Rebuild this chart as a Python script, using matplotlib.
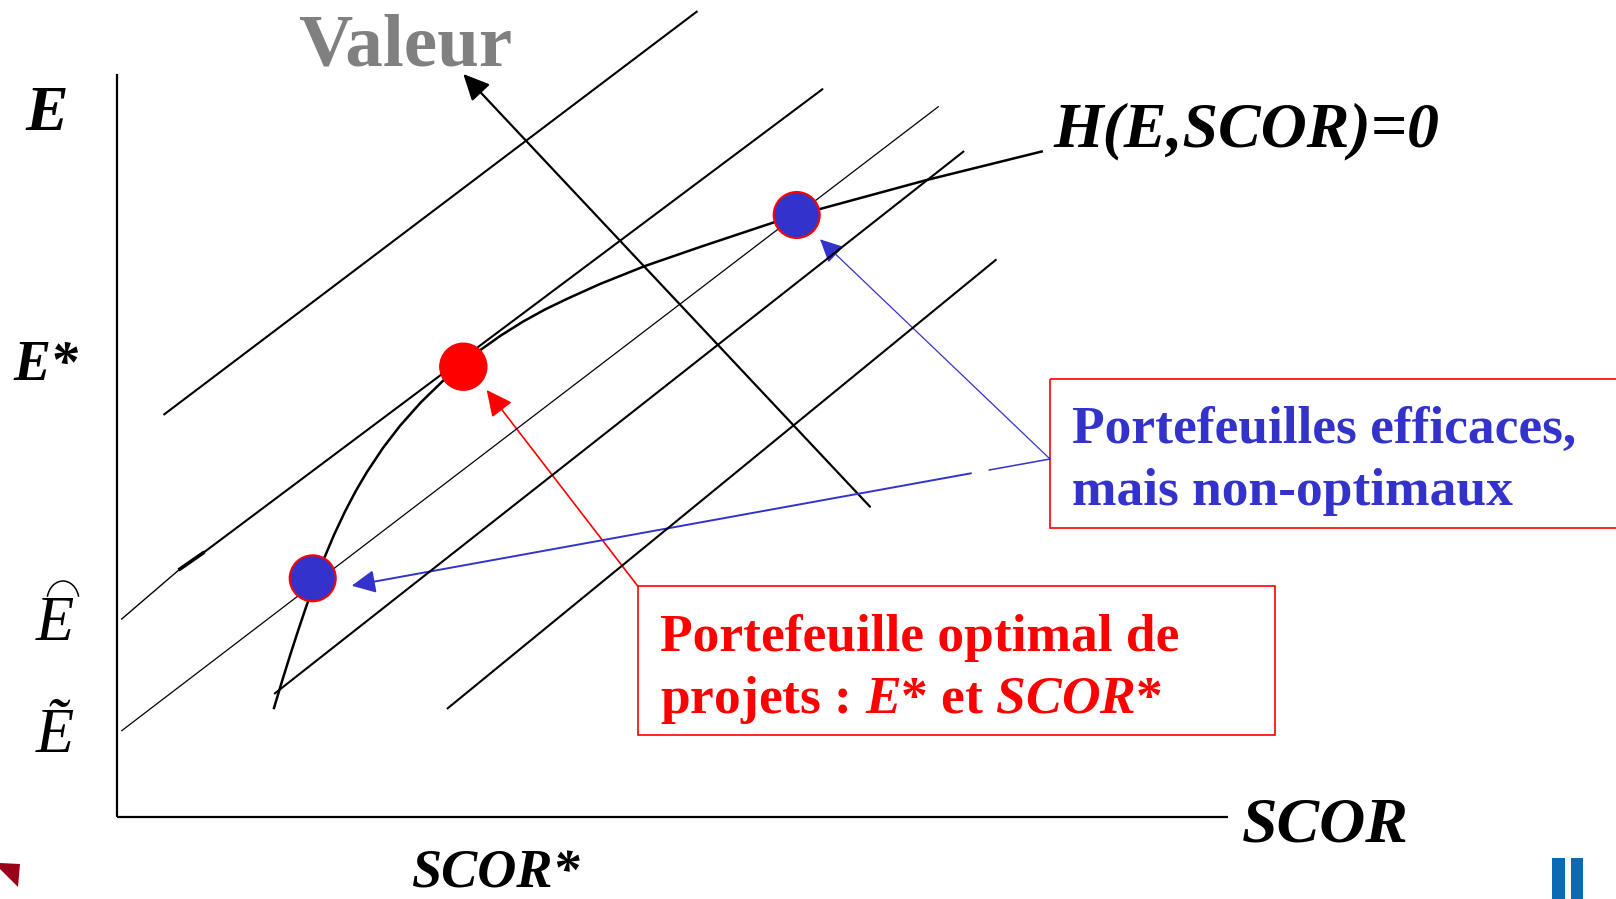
import matplotlib
matplotlib.use('Agg')
import matplotlib.pyplot as plt
from matplotlib.patches import Circle, Rectangle, Polygon, Arc, FancyArrowPatch

plt.rcParams.update({
    'font.family': ['Liberation Serif', 'DejaVu Serif'],
    'mathtext.fontset': 'custom',
    'mathtext.it': 'Liberation Serif:italic:bold',
    'mathtext.rm': 'Liberation Serif:bold',
    'mathtext.bf': 'Liberation Serif:bold',
})

# ---- diagram data (canvas units, y downward) ----
axis_origin = (117, 817)
axis_top_y = 74
axis_right_x = 1228

# iso-value lines (x0, y0, x1, y1)
iso_lines = [
    (164.3, 414.3, 696.7, 11.7),
    (203.0, 553.0, 822.3, 89.3),
    (275.0, 693.3, 963.3, 151.7),
    (447.7, 708.3, 995.7, 260.0),
]
iso_line_b_low = (121.7, 619.0, 180.0, 569.0)
iso_line_b_mark = (180.0, 569.0, 203.0, 553.0)
thin_line = (121.7, 730.7, 938.3, 106.7)

# frontier H(E,SCOR)=0
curve_x = [274, 282, 290, 298, 306.7, 315, 323.3, 334, 345, 356, 366.7, 383, 400,
           421, 443.3, 462, 480, 501, 523, 545, 566.7, 600, 645, 700, 775, 820,
           926.7, 1041.7]
curve_y = [708, 681.3, 655.6, 630.9, 605.1, 581.9, 560.3, 534.9, 511.5, 490.6,
           472.4, 447.9, 425.8, 402.2, 380.5, 364.4, 350.3, 335.4, 321.6, 309.5,
           299, 284, 266, 247, 222, 209, 180, 151.5]

# value direction arrow
valeur_tail = (870, 506.7)
valeur_tip = (463.3, 74)

# points
optimal_pt = (463.3, 366.7)
efficient_pts = [(312.7, 578.3), (796.7, 215.0)]
dot_r = 23

# boxes
red_box = (638, 586.4, 636.8, 148.4)
blue_box = (1050, 379.3, 620, 148.4)

RED = '#FF0000'
BLUE = '#3333CC'
GREY = '#808080'

fig = plt.figure(figsize=(16.16, 8.99), dpi=100)
ax = fig.add_axes([0, 0, 1, 1])
ax.set_xlim(0, 1616)
ax.set_ylim(899, 0)
ax.axis('off')

# axes
ox, oy = axis_origin
ax.plot([ox, ox], [axis_top_y, oy], color='black', lw=1.6, solid_capstyle='butt')
ax.plot([ox, axis_right_x], [oy, oy], color='black', lw=1.6, solid_capstyle='butt')

# iso lines
for (x0, y0, x1, y1) in iso_lines:
    ax.plot([x0, x1], [y0, y1], color='black', lw=1.5)
x0, y0, x1, y1 = iso_line_b_low
ax.plot([x0, x1], [y0, y1], color='black', lw=1.0)
x0, y0, x1, y1 = iso_line_b_mark
ax.plot([x0, x1], [y0, y1], color='black', lw=2.6)
x0, y0, x1, y1 = thin_line
ax.plot([x0, x1], [y0, y1], color='black', lw=0.9)

# frontier
ax.plot(curve_x, curve_y, color='black', lw=1.8, solid_joinstyle='round')

# Valeur arrow
ax.add_patch(FancyArrowPatch(valeur_tail, valeur_tip,
                             arrowstyle='-|>,head_length=0.8,head_width=0.38',
                             mutation_scale=20, lw=1.6, color='black',
                             shrinkA=0, shrinkB=0))

# boxes
ax.add_patch(Rectangle(red_box[:2], red_box[2], red_box[3], fill=False,
                       edgecolor=RED, lw=1.2))
ax.add_patch(Rectangle(blue_box[:2], blue_box[2], blue_box[3], fill=False,
                       edgecolor=RED, lw=1.2, clip_on=False))

# red arrow to optimum
ax.add_patch(FancyArrowPatch((red_box[0], red_box[1]), (486.7, 390),
                             arrowstyle='-|>,head_length=0.8,head_width=0.39',
                             mutation_scale=20, lw=1.2, color=RED,
                             shrinkA=0, shrinkB=0))

# blue arrows
src = (blue_box[0], 459)
ax.add_patch(FancyArrowPatch(src, (820, 239.3),
                             arrowstyle='-|>,head_length=0.72,head_width=0.35',
                             mutation_scale=20, lw=0.9, color=BLUE,
                             shrinkA=0, shrinkB=0))
ax.plot([src[0], 989.3], [src[1], 470.0], color=BLUE, lw=1.1)
ax.add_patch(FancyArrowPatch((971, 473.3), (351.7, 585.7),
                             arrowstyle='-|>,head_length=0.72,head_width=0.35',
                             mutation_scale=20, lw=1.4, color=BLUE,
                             shrinkA=0, shrinkB=0))

# dots
ax.add_patch(Circle(optimal_pt, dot_r + 0.5, facecolor=RED, edgecolor=RED, lw=1, zorder=5))
for p in efficient_pts:
    ax.add_patch(Circle(p, dot_r, facecolor=BLUE, edgecolor=RED, lw=1.5, zorder=5))

# texts
ax.text(298, 66, 'Valeur', color=GREY, fontsize=54, fontweight='bold', va='baseline')
ax.text(25, 130, 'E', fontsize=46, fontweight='bold', style='italic', va='baseline')
ax.text(13, 380, 'E*', fontsize=40, fontweight='bold', style='italic', va='baseline')
ax.text(36, 640, 'E', fontsize=45, style='italic', va='baseline')
ax.add_patch(Arc((63, 601), 32, 40, theta1=195, theta2=345, color='black', lw=1.1))
ax.text(36, 752, 'Ẽ', fontsize=45, style='italic', va='baseline')
ax.text(1053, 146, 'H(E,SCOR)=0', fontsize=46, fontweight='bold', style='italic', va='baseline')
ax.text(1242, 842, 'SCOR', fontsize=46, fontweight='bold', style='italic', va='baseline')
ax.text(411, 887, 'SCOR*', fontsize=39, fontweight='bold', style='italic', va='baseline')

ax.text(1072, 443, 'Portefeuilles efficaces,', color=BLUE, fontsize=38.5,
        fontweight='bold', va='baseline')
ax.text(1072, 505, 'mais non-optimaux', color=BLUE, fontsize=38.5,
        fontweight='bold', va='baseline')
ax.text(660, 651, 'Portefeuille optimal de', color=RED, fontsize=38.5,
        fontweight='bold', va='baseline')
ax.text(660, 713, r'projets : $E$* et $SCOR$*', color=RED, fontsize=38.5,
        fontweight='bold', va='baseline')

# slide decorations
ax.add_patch(Polygon([(0, 863), (20, 864), (18, 887), (0, 869)], closed=True,
                     facecolor='#99001a', edgecolor='none'))
ax.add_patch(Rectangle((1552, 858), 13, 41, facecolor='#0a6ab3', edgecolor='none'))
ax.add_patch(Rectangle((1571, 858), 12, 41, facecolor='#0a6ab3', edgecolor='none'))

fig.savefig('out.png', dpi=100)
